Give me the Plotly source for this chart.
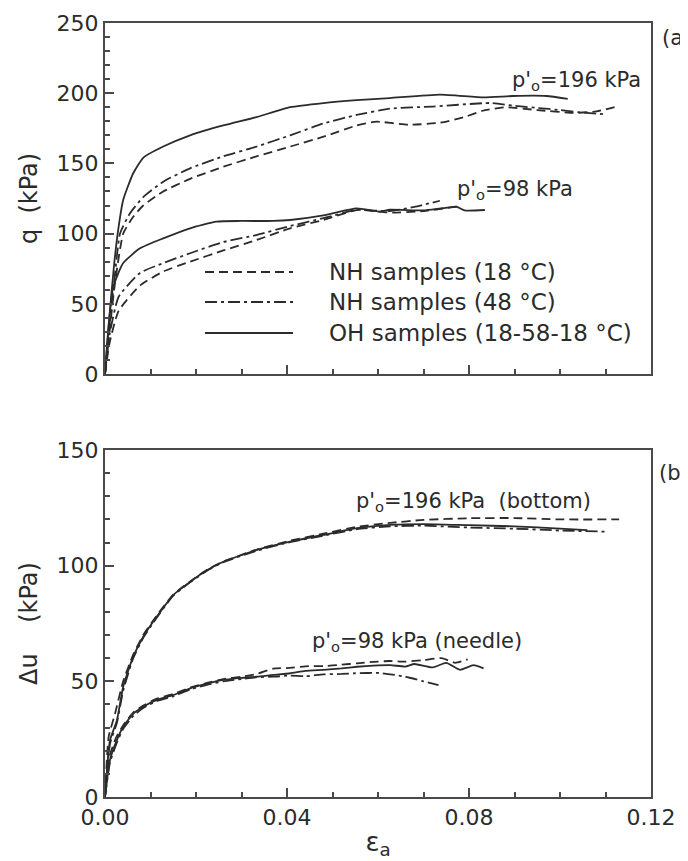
import plotly.graph_objects as go

# ---------------- data: panel (a) q vs axial strain ----------------
eps_a196_oh = [0, 0.001, 0.002, 0.003, 0.004, 0.0062, 0.0084, 0.0128, 0.0187, 0.026, 0.0333,
               0.0407, 0.048, 0.0553, 0.0626, 0.0736, 0.0833, 0.0897, 0.097, 0.1017]
q196_oh = [0, 42, 78, 105, 124, 143, 154, 162, 170, 177, 183,
           190, 193, 195, 196.5, 199, 197, 198, 198, 196]

eps_a196_nh48 = [0, 0.001, 0.002, 0.0033, 0.0055, 0.0084, 0.0128, 0.0187, 0.026, 0.0333, 0.0407,
                 0.048, 0.0553, 0.0626, 0.072, 0.0846, 0.09, 0.095, 0.1, 0.104, 0.110]
q196_nh48 = [0, 35, 65, 100, 114.5, 126, 137, 146.5, 155, 162, 170,
             178.5, 184.5, 189, 190.5, 193, 191, 189.5, 188, 186.5, 185]

eps_a196_nh18 = [0, 0.001, 0.002, 0.004, 0.0062, 0.0084, 0.0128, 0.0187, 0.026, 0.0333, 0.0407,
                 0.048, 0.0553, 0.0597, 0.0668, 0.0736, 0.079, 0.083, 0.088, 0.095, 0.103, 0.108, 0.113]
q196_nh18 = [0, 30, 60, 100, 112, 120, 130, 139, 147.6, 155, 162,
             169, 177, 179.7, 177.5, 179, 183, 187.5, 190, 188, 186, 187, 191]

eps_a98_oh = [0, 0.0008, 0.0018, 0.004, 0.0077, 0.0128, 0.0187, 0.0245, 0.0297, 0.037, 0.0407,
              0.048, 0.0553, 0.0604, 0.0626, 0.07, 0.0773, 0.079, 0.0835]
q98_oh = [0, 35, 62, 79, 89.5, 96.6, 103.8, 108.5, 109, 109, 109.7,
          113, 118, 115.6, 117, 116.5, 119, 116.5, 116.8]

eps_a98_nh48 = [0, 0.001, 0.003, 0.0077, 0.0128, 0.0187, 0.026, 0.0333, 0.0407, 0.048, 0.0553,
                0.0626, 0.068, 0.0736]
q98_nh48 = [0, 28, 55, 72, 79, 86, 94, 99, 105.4, 111, 116.8,
            116, 119, 123.4]

eps_a98_nh18 = [0, 0.001, 0.003, 0.0077, 0.0128, 0.0187, 0.026, 0.0333, 0.0407, 0.048, 0.0553,
                0.0626, 0.07, 0.0776]
q98_nh18 = [0, 22, 45, 63, 73, 80, 88, 95.4, 103.8, 109.7, 116.8,
            115, 116, 119.5]

# ---------------- data: panel (b) pore pressure vs axial strain ----------------
eps_b196_nh18 = [0, 0.0008, 0.0022, 0.004, 0.0062, 0.0084, 0.0114, 0.015, 0.0187, 0.0224, 0.026,
                 0.0334, 0.0407, 0.048, 0.0554, 0.0627, 0.07, 0.08, 0.09, 0.1, 0.113]
du196_nh18 = [0, 26, 36, 50, 61.5, 70, 78.5, 87.5, 93.2, 98.2, 101.8,
              107, 110.8, 113.8, 116.8, 118.5, 119.8, 120.5, 120.6, 120, 120]

eps_b196_nh48 = [0, 0.0011, 0.0026, 0.004, 0.0062, 0.0084, 0.0114, 0.015, 0.0187, 0.0224, 0.026,
                 0.0334, 0.0407, 0.048, 0.0554, 0.0627, 0.07, 0.08, 0.09, 0.1, 0.1105]
du196_nh48 = [0, 23, 32, 46, 60, 68.8, 77.6, 87, 92.8, 97.8, 101.5,
              106.5, 110.2, 113, 115.8, 117, 117.3, 116.5, 116, 115.2, 114.7]

eps_b196_oh = [0, 0.0011, 0.0026, 0.004, 0.0062, 0.0084, 0.0114, 0.015, 0.0187, 0.0224, 0.026,
               0.0334, 0.0407, 0.048, 0.0554, 0.0627, 0.07, 0.08, 0.09, 0.1, 0.106]
du196_oh = [0, 24.6, 33, 47.7, 60.7, 69.3, 78, 87.3, 93, 98, 101.7,
            106.8, 110.4, 113.3, 116.2, 117.6, 118, 117.5, 117, 116, 115.4]

eps_b98_oh = [0, 0.0011, 0.0026, 0.004, 0.0062, 0.0084, 0.0114, 0.015, 0.0187, 0.0224, 0.026,
              0.03, 0.0334, 0.037, 0.0407, 0.044, 0.048, 0.052, 0.0554, 0.059, 0.0627,
              0.066, 0.068, 0.072, 0.075, 0.078, 0.081, 0.0832]
du98_oh = [0, 16, 24.6, 30.4, 36, 39, 42, 44, 47, 49, 50.6,
           51.5, 52, 52.8, 53.5, 54.5, 55, 55.6, 56.3, 56.8, 57,
           56.4, 57.5, 56, 58, 55, 57, 55.6]

eps_b98_nh18 = [0, 0.0009, 0.0024, 0.004, 0.0062, 0.0084, 0.0114, 0.015, 0.0187, 0.0224, 0.026,
                0.03, 0.0334, 0.037, 0.0407, 0.044, 0.048, 0.052, 0.0554, 0.059, 0.0627,
                0.066, 0.07, 0.074, 0.077, 0.0797]
du98_nh18 = [0, 17, 25.5, 31, 36.5, 39.5, 42.5, 44.5, 47.3, 49.3, 51,
             52, 53.2, 55.5, 55.8, 56.5, 56.6, 57.2, 57.8, 58.4, 58.8,
             58.5, 59.2, 60, 58, 59.5]

eps_b98_nh48 = [0, 0.0011, 0.0026, 0.004, 0.0062, 0.0084, 0.0114, 0.015, 0.0187, 0.0224, 0.026,
                0.03, 0.0334, 0.037, 0.0407, 0.044, 0.048, 0.052, 0.055, 0.0605, 0.066, 0.07, 0.0733]
du98_nh48 = [0, 15, 23.5, 29.5, 35, 38.5, 41.5, 43.5, 46.5, 48.5, 50,
             51, 51.8, 52, 52.5, 52.2, 53, 53.2, 53.5, 53.6, 52, 50, 48.4]

x_range = [0, 0.12]
q_range = [0, 250]
du_range = [0, 150]
x_tick_step = 0.04
x_minor_step = 0.01
q_tick_step = 50
du_tick_step = 50
y_minor_step = 10

legend_labels = ["NH samples (18 \u00b0C)", "NH samples (48 \u00b0C)", "OH samples (18-58-18 \u00b0C)"]

# ---------------- styles ----------------
INK = "#2b2b2b"
AXC = "#4a4a4a"
FONT = "DejaVu Sans"
DASH = "9px,5px"
DASHDOT = "12px,4px,3px,4px"
LW = 1.8

fig = go.Figure()

def add(x, y, dash, xa, ya):
    fig.add_trace(go.Scatter(x=x, y=y, mode="lines", xaxis=xa, yaxis=ya, showlegend=False,
                             line=dict(color=INK, width=LW, dash=dash, shape="spline",
                                       smoothing=0.5)))

add(eps_a196_nh18, q196_nh18, DASH, "x", "y")
add(eps_a196_nh48, q196_nh48, DASHDOT, "x", "y")
add(eps_a196_oh, q196_oh, "solid", "x", "y")
add(eps_a98_nh18, q98_nh18, DASH, "x", "y")
add(eps_a98_nh48, q98_nh48, DASHDOT, "x", "y")
add(eps_a98_oh, q98_oh, "solid", "x", "y")

add(eps_b196_nh18, du196_nh18, DASH, "x2", "y2")
add(eps_b196_nh48, du196_nh48, DASHDOT, "x2", "y2")
add(eps_b196_oh, du196_oh, "solid", "x2", "y2")
add(eps_b98_nh18, du98_nh18, DASH, "x2", "y2")
add(eps_b98_nh48, du98_nh48, DASHDOT, "x2", "y2")
add(eps_b98_oh, du98_oh, "solid", "x2", "y2")

tickfont = dict(family=FONT, size=22, color=INK)
TOP_DOMAIN = [0.5465, 1.0]
BOT_DOMAIN = [0.0, 0.4483]


def tick_axis(rng, step, minor_step, **kw):
    d = dict(range=rng, tickmode="linear", tick0=0, dtick=step, ticks="inside", ticklen=9,
             tickwidth=2, tickcolor=AXC, showgrid=False, zeroline=False, automargin=False,
             tickfont=tickfont,
             minor=dict(dtick=minor_step, tick0=0, ticks="inside", ticklen=5, tickwidth=1.5,
                        tickcolor=AXC, showgrid=False))
    d.update(kw)
    return d


def main_x(anchor, labels):
    return tick_axis(x_range, x_tick_step, x_minor_step, domain=[0, 1], anchor=anchor,
                     tickformat=".2f", showticklabels=labels, showline=True, linecolor=AXC,
                     linewidth=2, mirror=True)


def main_y(rng, step, domain, anchor, title):
    return tick_axis(rng, step, y_minor_step, domain=domain, anchor=anchor, showline=True,
                     linecolor=AXC, linewidth=2, mirror=True,
                     title=dict(text=title, font=dict(family=FONT, size=24, color=INK), standoff=12))


def top_x(overlay, anchor):
    # opposite-side ticks (top edge) of the frame
    return tick_axis(x_range, x_tick_step, x_minor_step, overlaying=overlay, anchor=anchor,
                     side="top", showticklabels=False, showline=False)


def right_y(rng, step, overlay, anchor):
    # opposite-side ticks (right edge) of the frame
    return tick_axis(rng, step, y_minor_step, overlaying=overlay, anchor=anchor,
                     side="right", showticklabels=False, showline=False)


fig.update_layout(
    width=680, height=853,
    margin=dict(l=97, r=37, t=15, b=64),
    paper_bgcolor="white", plot_bgcolor="white",
    font=dict(family=FONT, color=INK),
    showlegend=False,
    xaxis=main_x("y", False),
    yaxis=main_y(q_range, q_tick_step, TOP_DOMAIN, "x", "q\u00a0\u00a0(kPa)"),
    xaxis2=main_x("y2", True),
    yaxis2=main_y(du_range, du_tick_step, BOT_DOMAIN, "x2", "\u0394u\u00a0\u00a0\u00a0\u00a0(kPa)"),
    xaxis3=top_x("x", "y"),
    yaxis3=right_y(q_range, q_tick_step, "y", "x"),
    xaxis4=top_x("x2", "y2"),
    yaxis4=right_y(du_range, du_tick_step, "y2", "x2"),
)
fig.layout.xaxis2.title = dict(text="\u03b5<sub>a</sub>", font=dict(family=FONT, size=26, color=INK),
                               standoff=3)

ann_font = dict(family=FONT, size=21, color=INK)
annotations = [
    dict(text="p'<sub>o</sub>=196 kPa", x=0.089, y=209, xref="x", yref="y", xanchor="left"),
    dict(text="p'<sub>o</sub>=98 kPa", x=0.0769, y=131, xref="x", yref="y", xanchor="left"),
    dict(text="p'<sub>o</sub>=196 kPa\u00a0\u00a0(bottom)", x=0.0548, y=127.5, xref="x2", yref="y2", xanchor="left"),
    dict(text="p'<sub>o</sub>=98 kPa (needle)", x=0.0451, y=67, xref="x2", yref="y2", xanchor="left"),
    dict(text="(a)", x=1.0165, y=239, xref="paper", yref="y", xanchor="left"),
    dict(text="(b)", x=1.011, y=140, xref="paper", yref="y2", xanchor="left"),
]
for a in annotations:
    a.update(showarrow=False, yanchor="middle", font=ann_font)

# manual legend (long line samples as in the original)
leg_y = [0.2906, 0.2051, 0.1168]
leg_dash_css = [DASH, DASHDOT, "solid"]
shapes = []
for yy, d, lab in zip(leg_y, leg_dash_css, legend_labels):
    shapes.append(dict(type="line", xref="x domain", yref="y domain", x0=0.1832, x1=0.3443,
                       y0=yy, y1=yy, line=dict(color=INK, width=LW, dash=d)))
    annotations.append(dict(text=lab, xref="x domain", yref="y domain", x=0.4066, y=yy,
                            xanchor="left", yanchor="middle", showarrow=False,
                            font=dict(family=FONT, size=23, color=INK)))

fig.update_layout(annotations=annotations, shapes=shapes)

fig.write_html("out.html")
